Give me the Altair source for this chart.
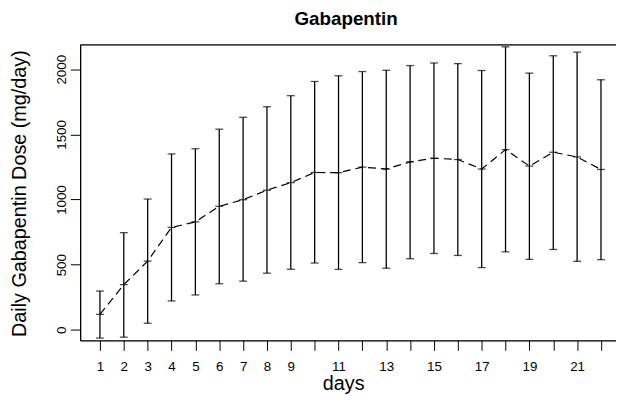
import altair as alt
import pandas as pd

days = list(range(1, 23))
mean_dose = [119, 347, 528, 786, 829, 948, 999, 1072, 1130, 1208, 1206, 1249,
             1234, 1289, 1317, 1307, 1234, 1383, 1257, 1363, 1327, 1231]
upper = [298, 746, 1004, 1350, 1390, 1540, 1631, 1712, 1797, 1906, 1950, 1982,
         1992, 2028, 2048, 2043, 1990, 2172, 1970, 2103, 2131, 1919]
lower = [-63, -56, 51, 222, 268, 354, 374, 435, 465, 513, 464, 516,
         473, 546, 586, 571, 478, 599, 541, 617, 526, 539]
y_ticks = [0, 500, 1000, 1500, 2000]

df = pd.DataFrame({"day": days, "mean": mean_dose, "upper": upper, "lower": lower})

W, H = 542, 299
FONT = "Liberation Sans"

x_scale = alt.Scale(domain=[0.171, 22.63], nice=False, zero=False)
y_scale = alt.Scale(domain=[-81, 2187], nice=False, zero=False)

x_axis = alt.Axis(
    values=days, title="days", grid=False, format="d",
    labelExpr="(datum.value < 10 || datum.value % 2 == 1) ? datum.label : ''",
    labelOverlap=False, labelFontSize=13.5, labelColor="black", labelFont=FONT,
    labelPadding=9, tickSize=10, tickColor="black", tickWidth=1,
    domainColor="black", domainWidth=1.3,
    titleFontSize=20, titleFont=FONT, titleFontWeight="normal", titleColor="black",
    titleX=266, titleY=44, titleBaseline="middle", titleAlign="center",
)
y_axis = alt.Axis(
    values=y_ticks, title="Daily Gabapentin Dose (mg/day)", grid=False, format="d",
    labelAngle=270, labelAlign="center", labelBaseline="alphabetic", labelOverlap=False,
    labelPadding=5, labelFontSize=13.5, labelColor="black", labelFont=FONT,
    tickSize=10, tickColor="black", tickWidth=1,
    domainColor="black", domainWidth=1.3,
    titleFontSize=20, titleFont=FONT, titleFontWeight="normal", titleColor="black",
    titleAngle=270, titleX=-61, titleY=150, titleBaseline="middle", titleAlign="center",
)

X = alt.X("day:Q", scale=x_scale, axis=x_axis)

def Y(field):
    return alt.Y(field, scale=y_scale, axis=y_axis)

base = alt.Chart(df)

bars = base.mark_rule(color="black", strokeWidth=1.3).encode(
    x=X, y=Y("lower:Q"), y2="upper:Q")
cap_hi = base.mark_tick(orient="horizontal", size=8, thickness=1.3, color="black").encode(
    x=X, y=Y("upper:Q"))
cap_lo = base.mark_tick(orient="horizontal", size=8, thickness=1.3, color="black").encode(
    x=X, y=Y("lower:Q"))
mid = base.mark_tick(orient="horizontal", size=8, thickness=1.3, color="black").encode(
    x=X, y=Y("mean:Q"))
line = base.mark_line(color="black", strokeWidth=1.2, strokeDash=[8, 5]).encode(
    x=X, y=Y("mean:Q"))
top_border = alt.Chart(pd.DataFrame({"k": [0]})).mark_rule(color="black", strokeWidth=1.3).encode(
    x=alt.value(0), x2=alt.value(W), y=alt.value(0))

chart = alt.layer(bars, cap_hi, cap_lo, mid, line, top_border).properties(
    width=W, height=H,
    title=alt.TitleParams("Gabapentin", font=FONT, fontSize=19, fontWeight="bold",
                          color="black", anchor="middle", dx=-2, offset=15),
    autosize=alt.AutoSizeParams(type="none"),
    padding={"left": 73, "top": 35, "right": 0, "bottom": 60},
).configure_view(stroke=None).configure_axis(labelOverlap=False).configure(background="white")

chart.save("out.html", embed_options={"renderer": "svg", "actions": False})
